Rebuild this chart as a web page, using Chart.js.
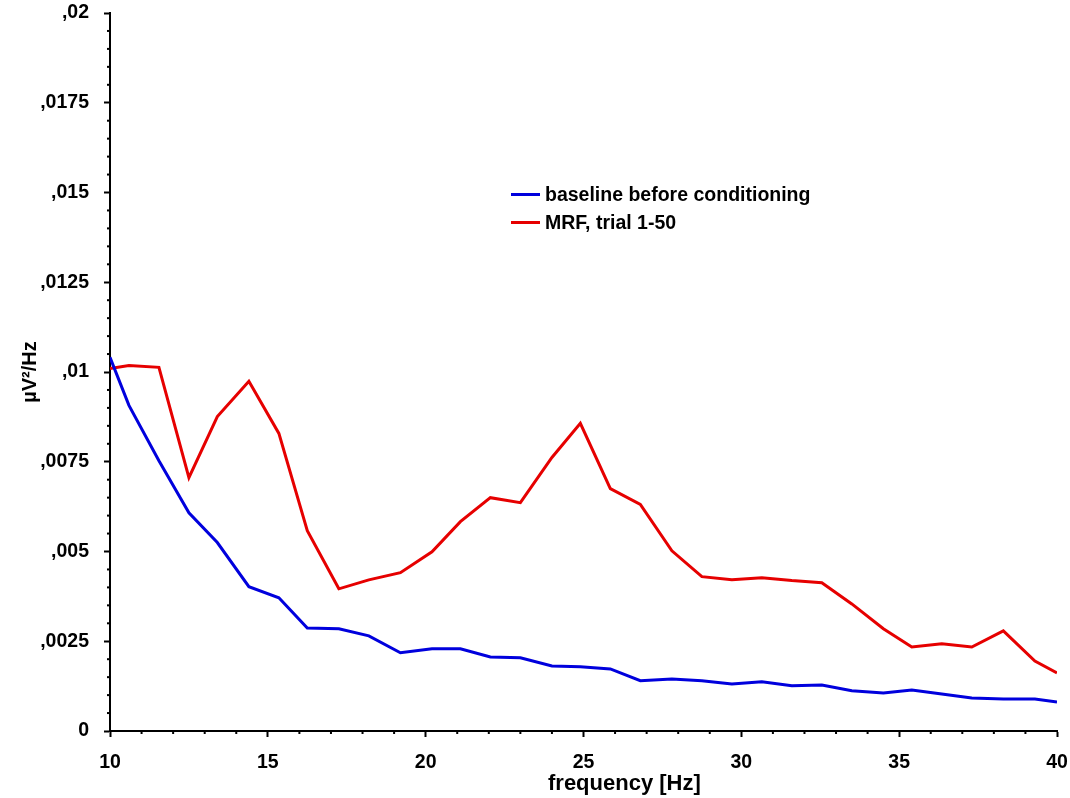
<!DOCTYPE html>
<html>
<head>
<meta charset="utf-8">
<title>Power spectrum</title>
<script src="https://cdn.jsdelivr.net/npm/chart.js@4.4.0/dist/chart.umd.min.js"></script>
<style>
    body { margin: 0; background: #fff; }
    #wrap { position: relative; width: 1070px; height: 798px; }
    #legend {
        position: absolute; left: 511px; top: 180px;
        font: bold 19.5px "Liberation Sans", Arial, sans-serif; color: #000;
    }
    .row { display: flex; align-items: center; height: 28px; }
    .swatch { width: 29px; height: 3px; margin-right: 5px; }
    #xtitle {
        position: absolute; left: 548px; top: 770px; line-height: 26px;
        font: bold 22px "Liberation Sans", Arial, sans-serif; color: #000;
    }
</style>
</head>
<body>
<div id="wrap">
    <canvas id="spectrumChart" width="1070" height="798"></canvas>
    <div id="legend"></div>
    <div id="xtitle">frequency [Hz]</div>
</div>
<script>
// frequency bins (Hz)
const frequency = [10, 10.6, 11.55, 12.5, 13.4, 14.4, 15.35, 16.25, 17.25, 18.2, 19.2, 20.2, 21.1,
    22.05, 23.0, 24.0, 24.9, 25.85, 26.8, 27.8, 28.75, 29.7, 30.65, 31.6, 32.55, 33.5, 34.5,
    35.4, 36.35, 37.3, 38.3, 39.3, 40];

// baseline before conditioning
const baseline = [0.01041, 0.00907, 0.00753, 0.00608, 0.00525, 0.00402, 0.00371, 0.00287, 0.00285,
    0.00265, 0.00218, 0.00229, 0.00229, 0.00206, 0.00204, 0.00181, 0.00179, 0.00173, 0.0014,
    0.00145, 0.0014, 0.00131, 0.00137, 0.00126, 0.00128, 0.00112, 0.00106, 0.00114, 0.00103,
    0.00092, 0.00089, 0.00089, 0.00081];

// MRF, trial 1-50
const mrf = [0.0101, 0.01018, 0.01013, 0.00706, 0.00876, 0.00974, 0.00829, 0.00558, 0.00396,
    0.00421, 0.00441, 0.00499, 0.00583, 0.0065, 0.00636, 0.00762, 0.00857, 0.00675, 0.00631,
    0.00502, 0.0043, 0.00421, 0.00427, 0.00419, 0.00413, 0.00354, 0.00285, 0.00234, 0.00243,
    0.00234, 0.00279, 0.00195, 0.00162];

const xTicks = [10, 15, 20, 25, 30, 35, 40];
const xTickLabels = ['10', '15', '20', '25', '30', '35', '40'];
const yTicks = [0, 0.0025, 0.005, 0.0075, 0.01, 0.0125, 0.015, 0.0175, 0.02];
const yTickLabels = ['0', ',0025', ',005', ',0075', ',01', ',0125', ',015', ',0175', ',02'];

const seriesNames = ['baseline before conditioning', 'MRF, trial 1-50'];
const seriesColors = ['#0000dd', '#e60000'];

function majorIndex(list, v) {
    return list.findIndex(t => Math.abs(t - v) < 1e-9);
}

// short minor ticks (library only draws one tick length)
const minorTicks = {
    id: 'minorTicks',
    afterDraw(chart) {
        const ctx = chart.ctx;
        const xs = chart.scales.x;
        const ys = chart.scales.y;
        ctx.save();
        ctx.strokeStyle = '#000';
        ctx.lineWidth = 2;
        ys.ticks.forEach(t => {
            if (majorIndex(yTicks, t.value) >= 0) return;
            const py = ys.getPixelForValue(t.value);
            ctx.beginPath();
            ctx.moveTo(ys.right - 3, py);
            ctx.lineTo(ys.right, py);
            ctx.stroke();
        });
        xs.ticks.forEach(t => {
            if (majorIndex(xTicks, t.value) >= 0) return;
            const px = xs.getPixelForValue(t.value);
            ctx.beginPath();
            ctx.moveTo(px, xs.top);
            ctx.lineTo(px, xs.top + 3);
            ctx.stroke();
        });
        ctx.restore();
    }
};

Chart.defaults.font.family = '"Liberation Sans", Arial, sans-serif';
Chart.defaults.color = '#000';

const ctx = document.getElementById('spectrumChart').getContext('2d');
const chart = new Chart(ctx, {
    type: 'line',
    data: {
        datasets: [
            {
                label: seriesNames[0],
                data: frequency.map((f, i) => ({ x: f, y: baseline[i] })),
                borderColor: seriesColors[0],
                backgroundColor: seriesColors[0],
                borderWidth: 3,
                pointRadius: 0,
                fill: false
            },
            {
                label: seriesNames[1],
                data: frequency.map((f, i) => ({ x: f, y: mrf[i] })),
                borderColor: seriesColors[1],
                backgroundColor: seriesColors[1],
                borderWidth: 3,
                pointRadius: 0,
                fill: false
            }
        ]
    },
    options: {
        responsive: false,
        animation: false,
        devicePixelRatio: 1,
        layout: { padding: { left: 18, right: 13, top: 13, bottom: 0 } },
        plugins: {
            legend: { display: false },
            tooltip: { enabled: false }
        },
        scales: {
            x: {
                type: 'linear',
                min: 10,
                max: 40,
                afterFit: scale => {
                    scale.height = 67;
                    scale.paddingLeft = 0;
                    scale.paddingRight = 0;
                },
                border: { display: true, color: '#000', width: 2 },
                grid: {
                    drawOnChartArea: false,
                    tickLength: 6,
                    tickWidth: 2,
                    tickColor: c => majorIndex(xTicks, c.tick.value) >= 0 ? '#000' : 'rgba(0,0,0,0)'
                },
                ticks: {
                    stepSize: 1,
                    autoSkip: false,
                    maxRotation: 0,
                    padding: 14,
                    font: { size: 19.5, weight: 'bold' },
                    callback: v => {
                        const i = majorIndex(xTicks, v);
                        return i >= 0 ? xTickLabels[i] : '';
                    }
                }
            },
            y: {
                min: 0,
                max: 0.02,
                afterFit: scale => {
                    scale.width = 92;
                    scale.paddingTop = 0;
                    scale.paddingBottom = 0;
                },
                border: { display: true, color: '#000', width: 2 },
                grid: {
                    drawOnChartArea: false,
                    tickLength: 6,
                    tickWidth: 2,
                    tickColor: c => majorIndex(yTicks, c.tick.value) >= 0 ? '#000' : 'rgba(0,0,0,0)'
                },
                ticks: {
                    stepSize: 0.0005,
                    autoSkip: false,
                    padding: 15,
                    font: { size: 19.5, weight: 'bold' },
                    callback: v => {
                        const i = majorIndex(yTicks, v);
                        return i >= 0 ? yTickLabels[i] : '';
                    }
                },
                title: {
                    display: true,
                    text: 'µV²/Hz',
                    padding: 0,
                    font: { size: 20, weight: 'bold' }
                }
            }
        }
    },
    plugins: [minorTicks]
});

// legend as html, inside the plot
const legendEl = document.getElementById('legend');
chart.data.datasets.forEach(ds => {
    const row = document.createElement('div');
    row.className = 'row';
    const sw = document.createElement('span');
    sw.className = 'swatch';
    sw.style.background = ds.borderColor;
    const txt = document.createElement('span');
    txt.textContent = ds.label;
    row.appendChild(sw);
    row.appendChild(txt);
    legendEl.appendChild(row);
});
</script>
</body>
</html>
